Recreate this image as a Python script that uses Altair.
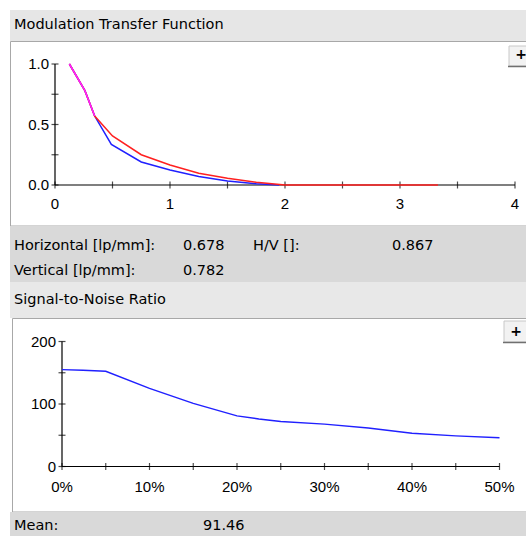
import altair as alt
import pandas as pd

# ---------------- data ----------------
# MTF (x in lp/mm, y modulation)
mtf_h_freq = [0.125, 0.26, 0.345, 0.49, 0.75, 1.0, 1.25, 1.5, 1.75, 1.95]
mtf_h_val = [1.0, 0.78, 0.57, 0.336, 0.19, 0.124, 0.07, 0.033, 0.01, 0.0]
mtf_v_freq = [0.125, 0.26, 0.345, 0.5, 0.75, 1.0, 1.25, 1.5, 1.75, 2.0, 3.33]
mtf_v_val = [1.0, 0.78, 0.57, 0.405, 0.25, 0.165, 0.097, 0.055, 0.022, 0.0, 0.0]
mtf_both_freq = [0.125, 0.26, 0.345]
mtf_both_val = [1.0, 0.78, 0.57]

# SNR (x in %, y ratio)
snr_pct = [0, 2.4, 5, 10, 15, 20, 22.5, 25, 30, 35, 40, 45, 50]
snr_val = [155, 154, 152.5, 125, 101, 81, 76, 72, 67.8, 61.5, 53.3, 49, 46]

# axis ticks / labels
mtf_x_ticks = [0, 0.5, 1, 1.5, 2, 2.5, 3, 3.5, 4]
mtf_x_labels = ["0", "1", "2", "3", "4"]
mtf_x_label_vals = [0, 1, 2, 3, 4]
mtf_y_ticks = [0, 0.25, 0.5, 0.75, 1.0]
mtf_y_label_vals = [0, 0.5, 1.0]
mtf_y_labels = ["0.0", "0.5", "1.0"]

snr_x_ticks = [0, 5, 10, 15, 20, 25, 30, 35, 40, 45, 50]
snr_x_label_vals = [0, 10, 20, 30, 40, 50]
snr_x_labels = ["0%", "10%", "20%", "30%", "40%", "50%"]
snr_y_ticks = [0, 50, 100, 150, 200]
snr_y_label_vals = [0, 100, 200]
snr_y_labels = ["0", "100", "200"]

# ui texts
title_mtf = "Modulation Transfer Function"
title_snr = "Signal-to-Noise Ratio"
info_rows = [
    ("Horizontal [lp/mm]:", 14, 246),
    ("0.678", 183, 246),
    ("H/V []:", 253, 246),
    ("0.867", 392, 246),
    ("Vertical [lp/mm]:", 14, 271),
    ("0.782", 183, 271),
    ("Mean:", 14, 526),
    ("91.46", 203, 526),
]

UI_FONT = "DejaVu Sans"
UI_SIZE = 14.5
AX_FONT = "Liberation Sans"
AX_SIZE = 15

# scales
mtf_xs = alt.Scale(domain=[0, 4], range=[55, 515], nice=False, zero=False)
mtf_ys = alt.Scale(domain=[0, 1], range=[185, 64], nice=False, zero=False)
snr_xs = alt.Scale(domain=[0, 50], range=[62, 499.5], nice=False, zero=False)
snr_ys = alt.Scale(domain=[0, 200], range=[466.5, 341.5], nice=False, zero=False)

one = pd.DataFrame({"k": [0]})


def box(x, x2, y, y2, fill, stroke=None):
    kw = dict(fill=fill)
    if stroke:
        kw.update(stroke=stroke, strokeWidth=1)
    return alt.Chart(one).mark_rect(**kw).encode(
        x=alt.value(x), x2=alt.value(x2), y=alt.value(y), y2=alt.value(y2))


def label(txt, x, y, size=UI_SIZE, weight="normal", align="left", font=UI_FONT):
    return alt.Chart(one).mark_text(
        text=txt, font=font, fontSize=size, fontWeight=weight, align=align,
        baseline="middle", color="#000000").encode(x=alt.value(x), y=alt.value(y))


layers = []
# chrome
layers.append(box(10, 526, 10, 41, "#e6e6e6"))
layers.append(box(10.5, 540, 41.5, 226, "#ffffff", "#a8a8a8"))
layers.append(box(10, 526, 226, 282, "#d9d9d9"))
layers.append(box(10, 526, 282, 318, "#e8e8e8"))
layers.append(box(12.5, 540, 318.5, 512, "#ffffff", "#a8a8a8"))
layers.append(box(10, 526, 512, 536, "#d9d9d9"))
# buttons
layers.append(box(509, 530, 46, 66, "#f2f2f2", "#c8c8c8"))
layers.append(alt.Chart(one).mark_rule(color="#707070", strokeWidth=1.5).encode(
    x=alt.value(508), x2=alt.value(526), y=alt.value(66.5)))
layers.append(label("+", 521, 55, size=14, weight="bold", align="center"))
layers.append(box(504, 530, 321, 342, "#f2f2f2", "#c8c8c8"))
layers.append(alt.Chart(one).mark_rule(color="#707070", strokeWidth=1.5).encode(
    x=alt.value(503), x2=alt.value(526), y=alt.value(342.5)))
layers.append(label("+", 516, 331.5, size=14, weight="bold", align="center"))

layers.append(label(title_mtf, 14, 25))
layers.append(label(title_snr, 14, 300))
for t, x, y in info_rows:
    layers.append(label(t, x, y))


def axes(xs, ys, xticks, yticks, xlv, xl, ylv, yl, xmin, xmax, ymin, ymax, ldy):
    out = []
    # axis lines
    out.append(alt.Chart(one).mark_rule(color="#000000", strokeWidth=1.2).encode(
        x=alt.XDatum(xmin, type="quantitative", scale=xs, axis=None),
        x2=alt.X2Datum(xmax),
        y=alt.YDatum(ymin, type="quantitative", scale=ys, axis=None)))
    out.append(alt.Chart(one).mark_rule(color="#000000", strokeWidth=1.2).encode(
        y=alt.YDatum(ymin, type="quantitative", scale=ys, axis=None),
        y2=alt.Y2Datum(ymax),
        x=alt.XDatum(xmin, type="quantitative", scale=xs, axis=None)))
    # ticks
    out.append(alt.Chart(pd.DataFrame({"t": xticks})).mark_tick(
        orient="vertical", size=7, thickness=1.2, color="#000000").encode(
        x=alt.X("t:Q", scale=xs, axis=None),
        y=alt.YDatum(ymin, type="quantitative", scale=ys, axis=None)))
    out.append(alt.Chart(pd.DataFrame({"t": yticks})).mark_tick(
        orient="horizontal", size=7, thickness=1.2, color="#000000").encode(
        y=alt.Y("t:Q", scale=ys, axis=None),
        x=alt.XDatum(xmin, type="quantitative", scale=xs, axis=None)))
    # labels
    out.append(alt.Chart(pd.DataFrame({"t": xlv, "s": xl})).mark_text(
        font=AX_FONT, fontSize=AX_SIZE, baseline="middle", align="center", dy=ldy,
        color="#000000").encode(
        x=alt.X("t:Q", scale=xs, axis=None),
        y=alt.YDatum(ymin, type="quantitative", scale=ys, axis=None),
        text="s:N"))
    out.append(alt.Chart(pd.DataFrame({"t": ylv, "s": yl})).mark_text(
        font=AX_FONT, fontSize=AX_SIZE, baseline="middle", align="right", dx=-6,
        color="#000000").encode(
        y=alt.Y("t:Q", scale=ys, axis=None),
        x=alt.XDatum(xmin, type="quantitative", scale=xs, axis=None),
        text="s:N"))
    return out


layers += axes(mtf_xs, mtf_ys, mtf_x_ticks, mtf_y_ticks, mtf_x_label_vals,
               mtf_x_labels, mtf_y_label_vals, mtf_y_labels, 0, 4, 0, 1, 19)
layers += axes(snr_xs, snr_ys, snr_x_ticks, snr_y_ticks, snr_x_label_vals,
               snr_x_labels, snr_y_label_vals, snr_y_labels, 0, 50, 0, 200, 20)


def line(freq, val, xs, ys, color):
    return alt.Chart(pd.DataFrame({"f": freq, "v": val})).mark_line(
        color=color, strokeWidth=1.5).encode(
        x=alt.X("f:Q", scale=xs, axis=None),
        y=alt.Y("v:Q", scale=ys, axis=None),
        order="f:Q")


layers.append(line(mtf_h_freq, mtf_h_val, mtf_xs, mtf_ys, "#2020ff"))
layers.append(line(mtf_v_freq, mtf_v_val, mtf_xs, mtf_ys, "#ff2020"))
layers.append(line(mtf_both_freq, mtf_both_val, mtf_xs, mtf_ys, "#ff20ff"))
layers.append(line(snr_pct, snr_val, snr_xs, snr_ys, "#2020ff"))

chart = alt.layer(*layers).resolve_scale(
    x="independent", y="independent").properties(
    width=526, height=536, autosize=alt.AutoSizeParams(type="none"),
    padding=0, background="#ffffff").configure_view(stroke=None)

chart.save("out.html", embed_options={"renderer": "svg", "actions": False})
